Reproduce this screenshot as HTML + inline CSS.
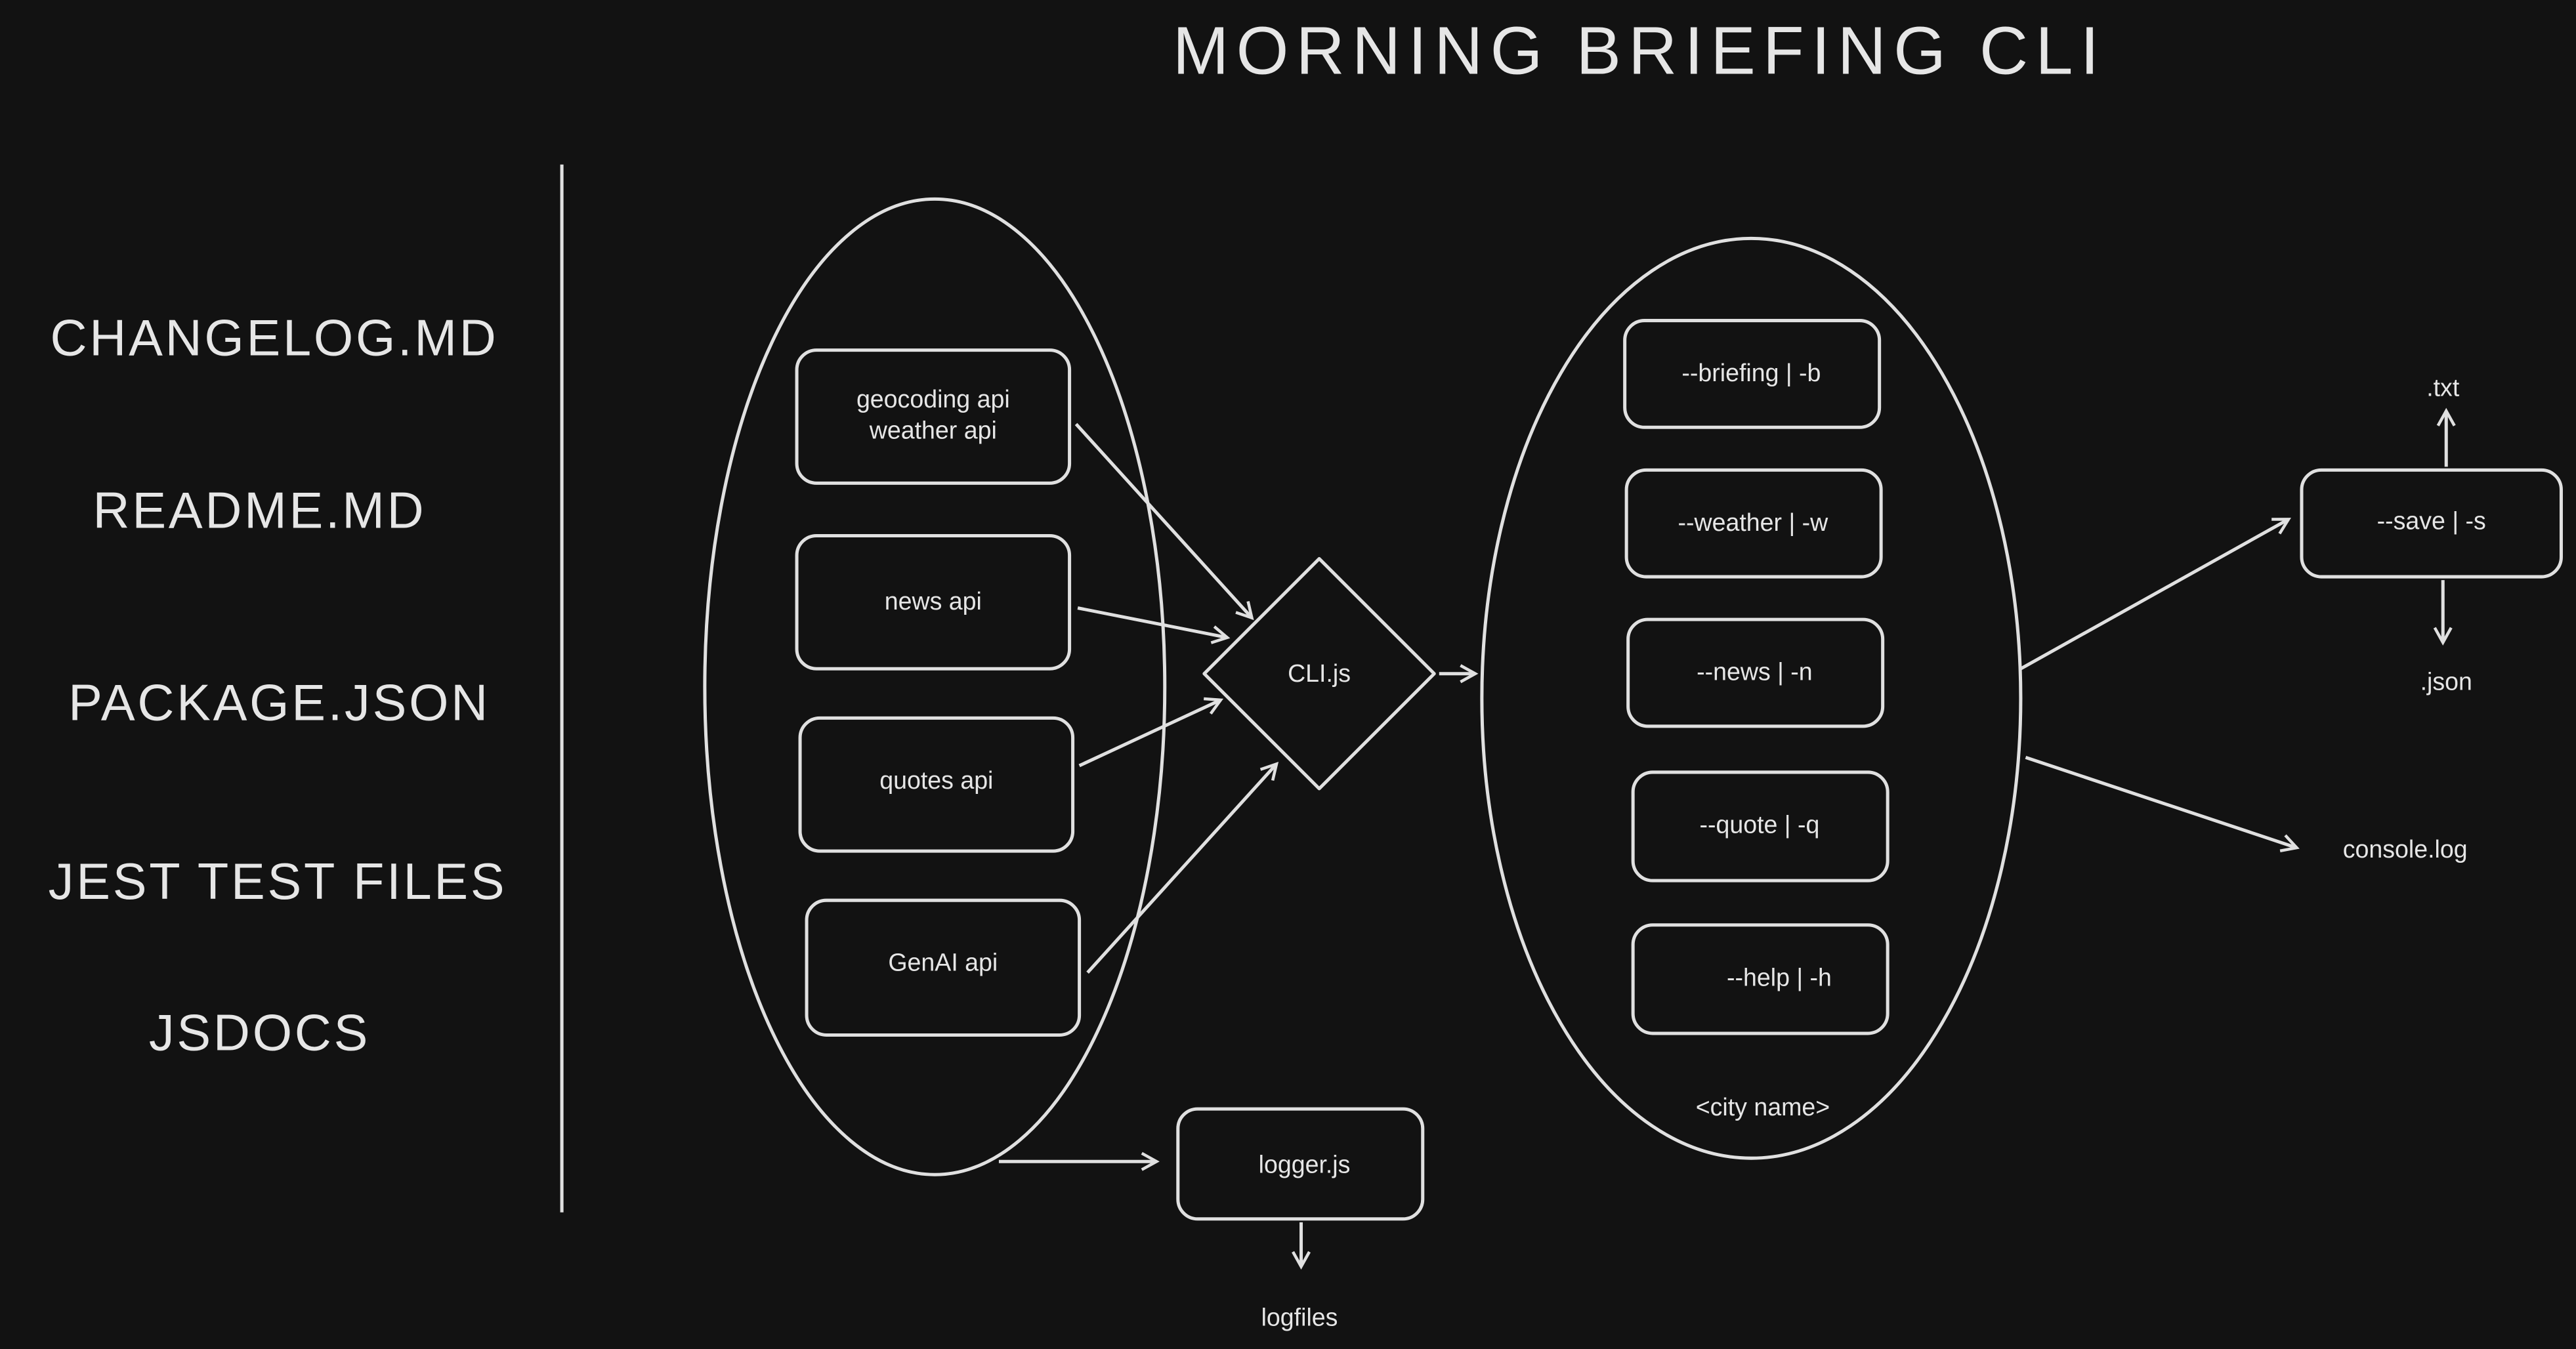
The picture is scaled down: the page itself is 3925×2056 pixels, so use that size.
<!DOCTYPE html>
<html><head><meta charset="utf-8"><style>
html,body{margin:0;padding:0;background:#121212;}
svg{display:block}
text{font-family:"Liberation Sans",sans-serif;fill:#e6e6e6;text-anchor:middle;dominant-baseline:middle}
.t{font-size:15px}
.b{font-size:31px;letter-spacing:1.5px}
</style></head><body>
<svg width="3925" height="2056" viewBox="0 0 1568 821" xmlns="http://www.w3.org/2000/svg">
<defs><marker id="a" markerWidth="12" markerHeight="12" refX="10" refY="6" orient="auto" markerUnits="userSpaceOnUse"><path d="M1,1 L10,6 L1,11" fill="none" stroke="#e0e0e0" stroke-width="1.8"/></marker></defs>
<rect width="1568" height="821" fill="#121212"/>
<g fill="none" stroke="#e0e0e0" stroke-width="2">
<line x1="342" y1="100" x2="342" y2="738"/>
<ellipse cx="569" cy="418" rx="140" ry="297"/>
<rect x="485" y="213" width="166" height="81" rx="12"/>
<rect x="485" y="326" width="166" height="81" rx="12"/>
<rect x="487" y="437" width="166" height="81" rx="12"/>
<rect x="491" y="548" width="166" height="82" rx="12"/>
<path d="M803,340 L873,410 L803,480 L733,410 Z" stroke-linejoin="round"/>
<ellipse cx="1066" cy="425" rx="164" ry="280"/>
<rect x="989" y="195" width="155" height="65" rx="12"/>
<rect x="990" y="286" width="155" height="65" rx="12"/>
<rect x="991" y="377" width="155" height="65" rx="12"/>
<rect x="994" y="470" width="155" height="66" rx="12"/>
<rect x="994" y="563" width="155" height="66" rx="12"/>
<rect x="1401" y="286" width="158" height="65" rx="12"/>
<rect x="717" y="675" width="149" height="67" rx="12"/>
<g marker-end="url(#a)">
<line x1="655" y1="258" x2="762" y2="376"/>
<line x1="656" y1="370" x2="747" y2="388"/>
<line x1="657" y1="466" x2="743" y2="426"/>
<line x1="662" y1="592" x2="777" y2="465"/>
<line x1="876" y1="410" x2="898" y2="410"/>
<line x1="1230" y1="407" x2="1393" y2="316"/>
<line x1="1233" y1="461" x2="1398" y2="516"/>
<line x1="1489" y1="284" x2="1489" y2="250"/>
<line x1="1487" y1="353" x2="1487" y2="391"/>
<line x1="608" y1="707" x2="704" y2="707"/>
<line x1="792" y1="744" x2="792" y2="771"/>
</g>
</g>
<text x="998" y="34" style="font-size:41px;letter-spacing:4.5px">MORNING BRIEFING CLI</text>
<text class="b" x="167" y="208">CHANGELOG.MD</text>
<text class="b" x="158" y="313">README.MD</text>
<text class="b" x="170" y="430">PACKAGE.JSON</text>
<text class="b" x="169" y="539">JEST TEST FILES</text>
<text class="b" x="158" y="631">JSDOCS</text>
<text class="t" x="568" y="244">geocoding api</text>
<text class="t" x="568" y="263">weather api</text>
<text class="t" x="568" y="367">news api</text>
<text class="t" x="570" y="476">quotes api</text>
<text class="t" x="574" y="587">GenAI api</text>
<text class="t" x="803" y="411">CLI.js</text>
<text class="t" x="1066" y="228">--briefing | -b</text>
<text class="t" x="1067" y="319">--weather | -w</text>
<text class="t" x="1068" y="410">--news | -n</text>
<text class="t" x="1071" y="503">--quote | -q</text>
<text class="t" x="1083" y="596">--help | -h</text>
<text class="t" x="1073" y="675">&lt;city name&gt;</text>
<text class="t" x="1480" y="318">--save | -s</text>
<text class="t" x="1487" y="237">.txt</text>
<text class="t" x="1489" y="416">.json</text>
<text class="t" x="1464" y="518">console.log</text>
<text class="t" x="794" y="710">logger.js</text>
<text class="t" x="791" y="803">logfiles</text>
</svg>
</body></html>
